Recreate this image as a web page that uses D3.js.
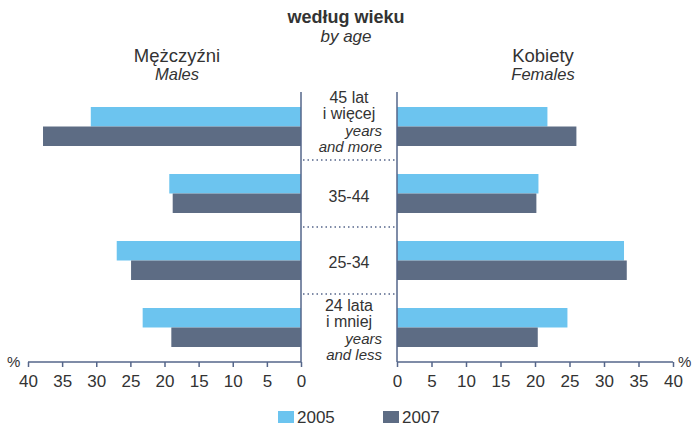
<!DOCTYPE html>
<html>
<head>
<meta charset="utf-8">
<script src="https://cdn.jsdelivr.net/npm/d3@7"></script>
<style>
  body { margin: 0; background: #fff; }
  svg text { font-family: "Liberation Sans", Arial, sans-serif; fill: #333; }
</style>
</head>
<body>
<svg id="chart"></svg>
<script>
// dane
const ageGroups = ["45+", "35-44", "25-34", "24-"];
const years = ["2005", "2007"];
const males2005 = [30.8, 19.3, 27.0, 23.2];
const males2007 = [37.8, 18.8, 24.9, 19.0];
const females2005 = [21.8, 20.5, 32.9, 24.7];
const females2007 = [26.0, 20.2, 33.3, 20.4];
const xTicks = [0, 5, 10, 15, 20, 25, 30, 35, 40];
const groupLabels = [
    [{t: "45 lat", s: "n"}, {t: "i więcej", s: "n"}, {t: "years", s: "i"}, {t: "and more", s: "i"}],
    [{t: "35-44", s: "n"}],
    [{t: "25-34", s: "n"}],
    [{t: "24 lata", s: "n"}, {t: "i mniej", s: "n"}, {t: "years", s: "i"}, {t: "and less", s: "i"}]
];

const width = 692, height = 427;
const colors = {"2005": "#6cc4ef", "2007": "#5d6c84"};
const axisColor = "#55668a";

const svg = d3.select("#chart").attr("width", width).attr("height", height);

// skale
const xLeft = d3.scaleLinear().domain([0, 40]).range([301, 28]);
const xRight = d3.scaleLinear().domain([0, 40]).range([397, 673]);
const yBand = d3.scaleBand().domain(ageGroups).range([92, 362])
    .paddingInner(0.418).paddingOuter(0.224);
const ySub = d3.scaleBand().domain(years).range([0, yBand.bandwidth()]);

const rows = ageGroups.map((g, i) => ({
    group: g,
    males: {"2005": males2005[i], "2007": males2007[i]},
    females: {"2005": females2005[i], "2007": females2007[i]}
}));

// tytuł
svg.append("text").attr("x", 346).attr("y", 23).attr("text-anchor", "middle")
    .attr("font-size", "18px").attr("font-weight", "bold").text("według wieku");
svg.append("text").attr("x", 346).attr("y", 42).attr("text-anchor", "middle")
    .attr("font-size", "17px").attr("font-style", "italic").text("by age");

// nagłówki stron
svg.append("text").attr("x", 177).attr("y", 62).attr("text-anchor", "middle")
    .attr("font-size", "18.5px").text("Mężczyźni");
svg.append("text").attr("x", 177).attr("y", 80).attr("text-anchor", "middle")
    .attr("font-size", "16.5px").attr("font-style", "italic").text("Males");
svg.append("text").attr("x", 543).attr("y", 62).attr("text-anchor", "middle")
    .attr("font-size", "18.5px").text("Kobiety");
svg.append("text").attr("x", 543).attr("y", 80).attr("text-anchor", "middle")
    .attr("font-size", "16.5px").attr("font-style", "italic").text("Females");

// słupki
function drawBars(key, scale) {
    svg.append("g").selectAll("g").data(rows).enter().append("g")
        .attr("transform", d => `translate(0,${yBand(d.group)})`)
        .selectAll("rect").data(d => years.map(y => ({year: y, value: d[key][y]})))
        .enter().append("rect")
        .attr("x", d => Math.min(scale(0), scale(d.value)))
        .attr("width", d => Math.abs(scale(d.value) - scale(0)))
        .attr("y", d => ySub(d.year))
        .attr("height", ySub.bandwidth())
        .attr("fill", d => colors[d.year]);
}
drawBars("males", xLeft);
drawBars("females", xRight);

// osie
const axisL = svg.append("g").attr("transform", "translate(0,362)")
    .call(d3.axisBottom(xLeft).tickValues(xTicks).tickSize(5).tickPadding(8));
const axisR = svg.append("g").attr("transform", "translate(0,362)")
    .call(d3.axisBottom(xRight).tickValues(xTicks).tickSize(5).tickPadding(8));
[axisL, axisR].forEach(a => {
    a.select(".domain").remove();
    a.selectAll(".tick line").attr("stroke", axisColor).attr("stroke-width", 1.5);
    a.selectAll(".tick text").attr("font-size", "17px").attr("fill", "#333")
        .attr("font-family", "Liberation Sans, Arial, sans-serif");
});
axisL.append("line").attr("x1", xLeft(40)).attr("x2", xLeft(0))
    .attr("stroke", axisColor).attr("stroke-width", 1.5);
axisR.append("line").attr("x1", xRight(0)).attr("x2", xRight(40))
    .attr("stroke", axisColor).attr("stroke-width", 1.5);

// pionowe osie
[xLeft(0), xRight(0)].forEach(x => {
    svg.append("line").attr("x1", x).attr("x2", x).attr("y1", 92).attr("y2", 362)
        .attr("stroke", axisColor).attr("stroke-width", 1.5);
});

svg.append("text").attr("x", 7).attr("y", 367).attr("font-size", "15px").text("%");
svg.append("text").attr("x", 678).attr("y", 367).attr("font-size", "15px").text("%");

// linie kropkowane między grupami
ageGroups.slice(1).forEach(g => {
    const y = yBand(g) - (yBand.step() - yBand.bandwidth()) / 2;
    svg.append("line").attr("x1", xLeft(0) + 2).attr("x2", xRight(0) - 2)
        .attr("y1", y).attr("y2", y)
        .attr("stroke", axisColor).attr("stroke-width", 1.5)
        .attr("stroke-dasharray", "1.5,3");
});

// etykiety grup wiekowych
const lineH = 16.3;
ageGroups.forEach((g, i) => {
    const labels = groupLabels[i];
    const mid = yBand(g) + yBand.bandwidth() / 2;
    // pierwsza grupa zaczyna się tuż pod górą osi
    const y0 = (i === 0) ? yBand(g) - 4 : mid - (labels.length - 1) * lineH / 2 + 8;
    labels.forEach((l, j) => {
        const t = svg.append("text").attr("y", y0 + j * lineH).attr("font-size", "16px").text(l.t);
        if (l.s === "i") {
            t.attr("x", 382).attr("text-anchor", "end").attr("font-style", "italic").attr("font-size", "15px");
        } else {
            t.attr("x", 349).attr("text-anchor", "middle");
        }
    });
});

// legenda
const legend = svg.append("g").selectAll("g").data(years).enter().append("g")
    .attr("transform", (d, i) => `translate(${278 + i * 105},411)`);
legend.append("rect").attr("width", 16).attr("height", 12).attr("fill", d => colors[d]);
legend.append("text").attr("x", 19).attr("y", 12).attr("font-size", "17px").text(d => d);
</script>
</body>
</html>
